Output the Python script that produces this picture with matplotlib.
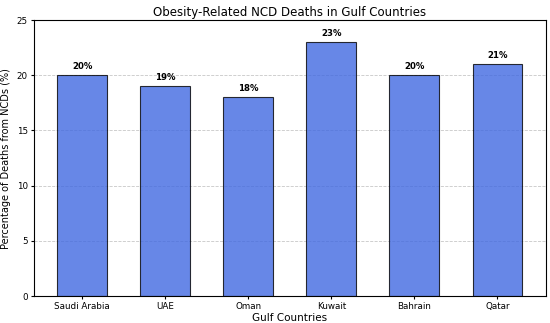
import matplotlib
matplotlib.use("Agg")
import matplotlib.pyplot as plt

countries = ["Saudi Arabia", "UAE", "Oman", "Kuwait", "Bahrain", "Qatar"]
percentages = [20, 19, 18, 23, 20, 21]

fig = plt.figure(figsize=(5.5, 3.23), dpi=100)
ax = fig.add_axes([0.062, 0.083, 0.93, 0.855])
bars = ax.bar(countries, percentages, width=0.6, color="royalblue", alpha=0.8,
              edgecolor="black", linewidth=0.8)
for b, v in zip(bars, percentages):
    ax.text(b.get_x() + b.get_width() / 2, v + 0.4, f"{v}%", ha="center", va="bottom",
            fontsize=6.2, fontweight="semibold")
ax.set_ylim(0, 25)
ax.set_title("Obesity-Related NCD Deaths in Gulf Countries", fontsize=8.5, pad=3)
ax.set_xlabel("Gulf Countries", fontsize=7.5, labelpad=1)
ax.set_ylabel("Percentage of Deaths from NCDs (%)", fontsize=7, labelpad=4)
ax.tick_params(axis="both", labelsize=6.3, length=2.5, pad=2)
ax.yaxis.grid(True, linestyle="--", alpha=0.7, linewidth=0.6)
ax.set_axisbelow(True)
fig.savefig("out.png", dpi=100)
